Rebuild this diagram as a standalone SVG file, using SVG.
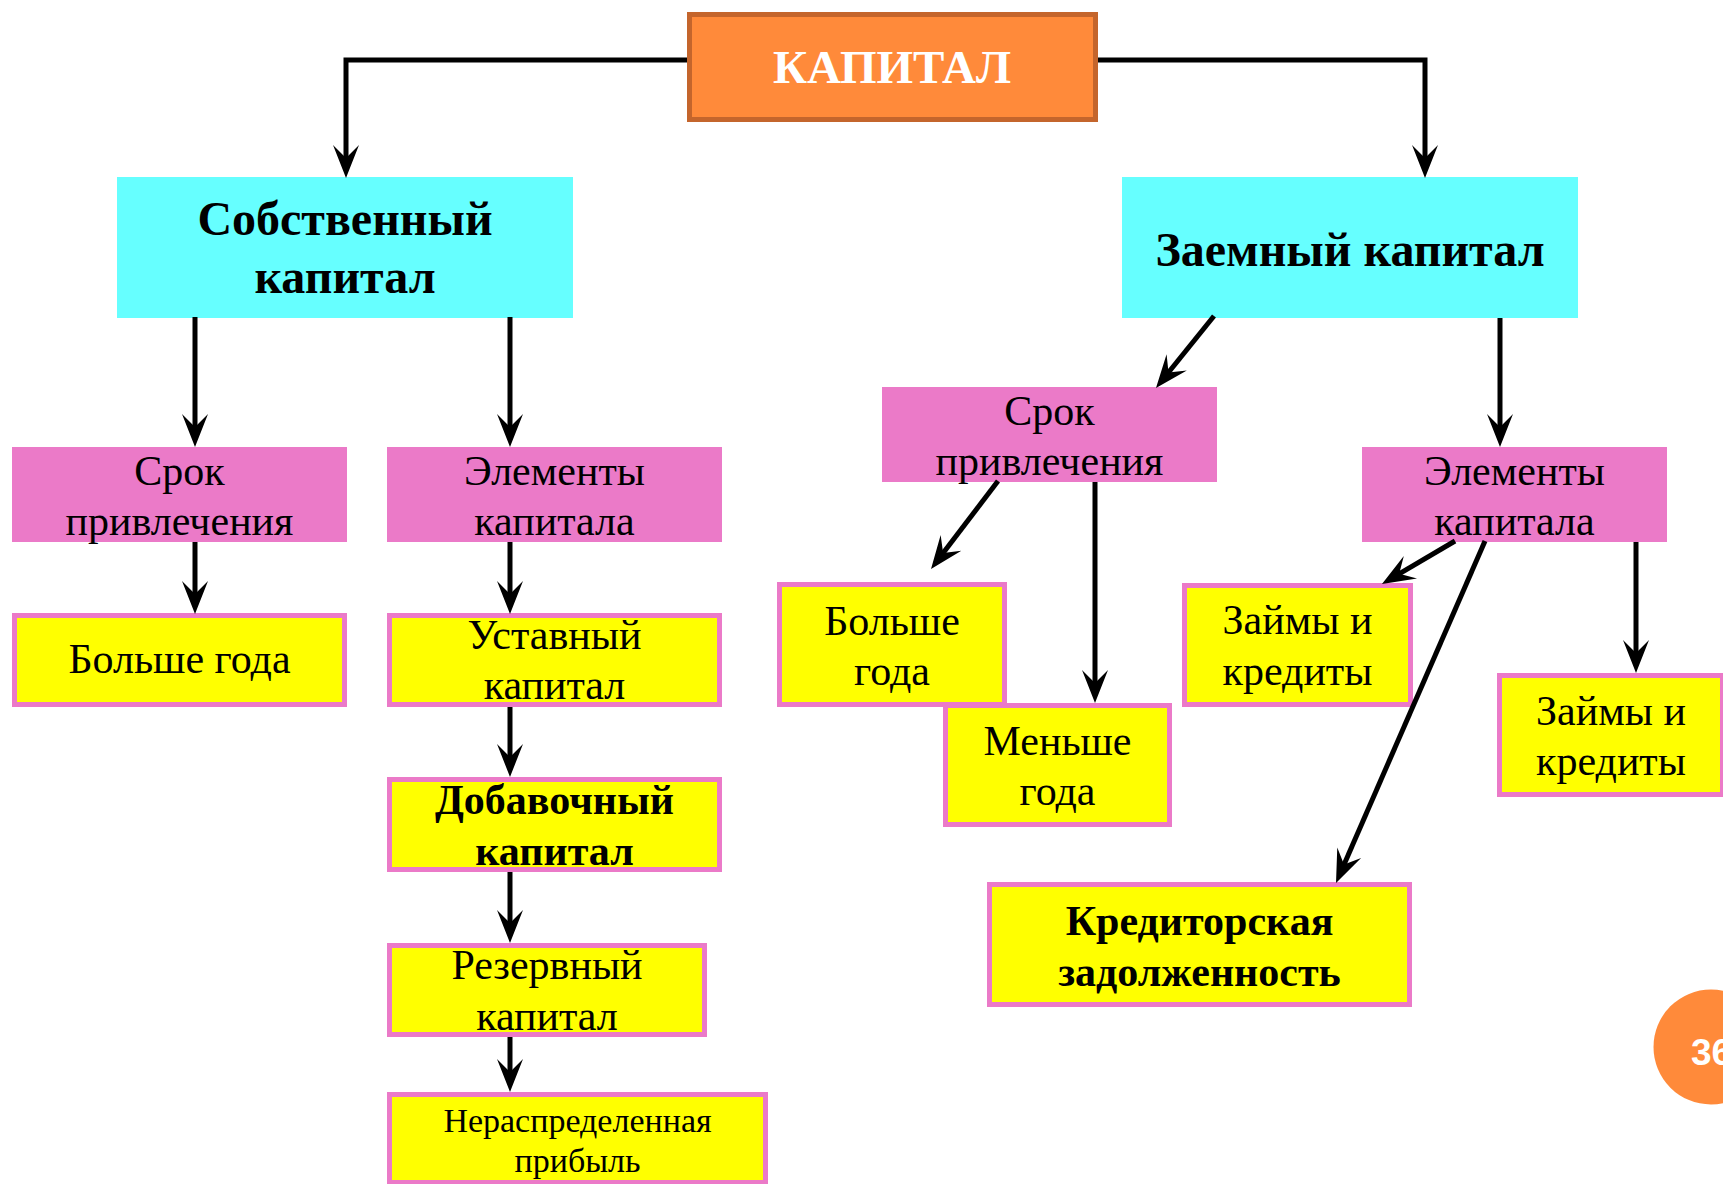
<svg xmlns="http://www.w3.org/2000/svg" width="1723" height="1184" viewBox="0 0 1723 1184">
<defs>
<style>
.t{font-family:"Liberation Serif","Times New Roman",serif;font-size:42px;fill:#000;text-anchor:middle}
.b{font-weight:bold}
.big{font-family:"Liberation Serif","Times New Roman",serif;font-size:48px;font-weight:bold;fill:#000;text-anchor:middle}
.cyan{fill:#66FFFF}
.pink{fill:#EB7AC8}
.yel{fill:#FFFF00;stroke:#EB7AC8;stroke-width:5}
.c{fill:none;stroke:#000;stroke-width:5}
</style>
<marker id="ah" markerUnits="userSpaceOnUse" markerWidth="40" markerHeight="30" viewBox="0 -15 36 30" refX="18" refY="0" orient="auto">
<path d="M0,-13 L33,0 L0,13 L13,0 Z" fill="#000"/>
</marker>
</defs>
<rect width="1723" height="1184" fill="#fff"/>

<g id="kapital">
<rect x="689.5" y="14.5" width="406" height="105" fill="#FF8A3A" stroke="#C4652C" stroke-width="5"/>
<text x="892" y="83" style="font-family:'Liberation Serif','Times New Roman',serif;font-size:47px;font-weight:bold;fill:#fff;text-anchor:middle">КАПИТАЛ</text>
</g>

<g id="sobstv">
<rect class="cyan" x="117" y="177" width="456" height="141"/>
<text class="big" x="345" y="235">Собственный</text>
<text class="big" x="345" y="293">капитал</text>
</g>

<g id="zaemny">
<rect class="cyan" x="1122" y="177" width="456" height="141"/>
<text class="big" x="1350" y="266">Заемный капитал</text>
</g>

<g id="srok-left">
<rect class="pink" x="12" y="447" width="335" height="95"/>
<text class="t" x="179.5" y="485">Срок</text>
<text class="t" x="179.5" y="535">привлечения</text>
</g>

<g id="elem-left">
<rect class="pink" x="387" y="447" width="335" height="95"/>
<text class="t" x="554.5" y="485">Элементы</text>
<text class="t" x="554.5" y="535">капитала</text>
</g>

<g id="bolshe-left">
<rect class="yel" x="14.5" y="615.5" width="330" height="89"/>
<text class="t" x="179.5" y="673">Больше года</text>
</g>

<g id="ustavny">
<rect class="yel" x="389.5" y="615.5" width="330" height="89"/>
<text class="t" x="554.5" y="649">Уставный</text>
<text class="t" x="554.5" y="699">капитал</text>
</g>

<g id="dobavochny">
<rect class="yel" x="389.5" y="779.5" width="330" height="90"/>
<text class="t b" x="554.5" y="814">Добавочный</text>
<text class="t b" x="554.5" y="865">капитал</text>
</g>

<g id="rezervny">
<rect class="yel" x="389.5" y="945.5" width="315" height="89"/>
<text class="t" x="547" y="979">Резервный</text>
<text class="t" x="547" y="1030">капитал</text>
</g>

<g id="neraspr">
<rect class="yel" x="389.5" y="1094.5" width="376" height="88"/>
<text class="t" x="577.5" y="1132" style="font-size:34px">Нераспределенная</text>
<text class="t" x="577.5" y="1172" style="font-size:34px">прибыль</text>
</g>

<g id="srok-right">
<rect class="pink" x="882" y="387" width="335" height="95"/>
<text class="t" x="1049.5" y="425">Срок</text>
<text class="t" x="1049.5" y="475">привлечения</text>
</g>

<g id="bolshe-right">
<rect class="yel" x="779.5" y="584.5" width="225" height="120"/>
<text class="t" x="892" y="635">Больше</text>
<text class="t" x="892" y="685">года</text>
</g>

<g id="menshe">
<rect class="yel" x="945.5" y="705.5" width="224" height="119"/>
<text class="t" x="1057.5" y="755">Меньше</text>
<text class="t" x="1057.5" y="805">года</text>
</g>

<g id="elem-right">
<rect class="pink" x="1362" y="447" width="305" height="95"/>
<text class="t" x="1514.5" y="485">Элементы</text>
<text class="t" x="1514.5" y="535">капитала</text>
</g>

<g id="zaimy1">
<rect class="yel" x="1184.5" y="585.5" width="226" height="119"/>
<text class="t" x="1297.5" y="634">Займы и</text>
<text class="t" x="1297.5" y="685">кредиты</text>
</g>

<g id="zaimy2">
<rect class="yel" x="1499.5" y="675.5" width="223" height="119"/>
<text class="t" x="1611" y="725">Займы и</text>
<text class="t" x="1611" y="775">кредиты</text>
</g>

<g id="kreditor">
<rect class="yel" x="989.5" y="884.5" width="420" height="120"/>
<text class="t b" x="1199.5" y="935">Кредиторская</text>
<text class="t b" x="1199.5" y="986">задолженность</text>
</g>

<g id="page-num">
<circle cx="1711" cy="1047" r="57.5" fill="#FF8A3A"/>
<text x="1691" y="1065" style="font-family:'Liberation Sans',Arial,sans-serif;font-size:37px;font-weight:bold;fill:#fff">36</text>
</g>

<g id="connectors" class="c">
<path class="c" marker-end="url(#ah)" d="M687,60 H346 V163"/>
<path class="c" marker-end="url(#ah)" d="M1098,60 H1425 V163"/>
<path class="c" marker-end="url(#ah)" d="M195,317 V432"/>
<path class="c" marker-end="url(#ah)" d="M510,317 V432"/>
<path class="c" marker-end="url(#ah)" d="M195,542 V599"/>
<path class="c" marker-end="url(#ah)" d="M510,542 V599"/>
<path class="c" marker-end="url(#ah)" d="M510,707 V762"/>
<path class="c" marker-end="url(#ah)" d="M510,872 V928"/>
<path class="c" marker-end="url(#ah)" d="M510,1037 V1077"/>
<path class="c" marker-end="url(#ah)" d="M1214,316 L1165.4,376.3"/>
<path class="c" marker-end="url(#ah)" d="M1500,318 V432"/>
<path class="c" marker-end="url(#ah)" d="M998,481 L940.1,557.1"/>
<path class="c" marker-end="url(#ah)" d="M1095,482 V688"/>
<path class="c" marker-end="url(#ah)" d="M1455,541 L1394.9,576.4"/>
<path class="c" marker-end="url(#ah)" d="M1485,541 L1342,869.2"/>
<path class="c" marker-end="url(#ah)" d="M1636,542 V658"/>
</g>
</svg>
